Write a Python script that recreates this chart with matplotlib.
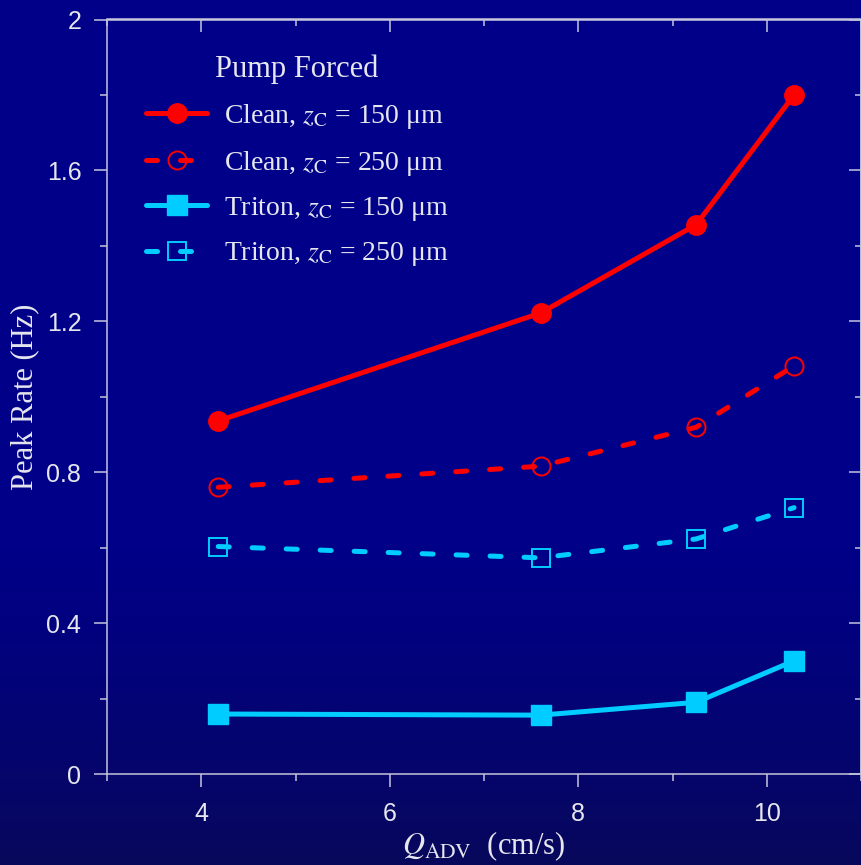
import numpy as np
import matplotlib
matplotlib.use("Agg")
import matplotlib.pyplot as plt

# data
q_adv = [4.18, 7.60, 9.25, 10.29]
clean_150 = [0.936, 1.222, 1.456, 1.800]
clean_250 = [0.760, 0.816, 0.919, 1.082]
triton_150 = [0.159, 0.156, 0.190, 0.300]
triton_250 = [0.603, 0.573, 0.623, 0.706]

labels = [r"Clean, $z_{\mathrm{C}}$ = 150 μm",
          r"Clean, $z_{\mathrm{C}}$ = 250 μm",
          r"Triton, $z_{\mathrm{C}}$ = 150 μm",
          r"Triton, $z_{\mathrm{C}}$ = 250 μm"]

x_major = [4, 6, 8, 10]
x_minor = [3, 5, 7, 9, 11]
y_major = [0, 0.4, 0.8, 1.2, 1.6, 2.0]
y_minor = [0.2, 0.6, 1.0, 1.4, 1.8]

red = "#ff0000"
cyan = "#00ccff"
txt = "#e6e6ee"
spine = "#c4c4dc"

plt.rcParams["mathtext.fontset"] = "stix"

W, H = 862, 865
fig = plt.figure(figsize=(W / 100, H / 100), dpi=100)

# navy background, darker toward the bottom
bg = fig.add_axes([0, 0, 1, 1], zorder=-5)
t = np.linspace(0, 1, 400)
shade = np.clip((t - 0.6) / 0.4, 0, 1) ** 1.3
top = np.array([0.0, 0.0, 0.54])
bot = np.array([0.03, 0.03, 0.36])
grad = top[None, :] * (1 - shade[:, None]) + bot[None, :] * shade[:, None]
bg.imshow(grad[:, None, :], aspect="auto", extent=[0, 1, 0, 1])
bg.axis("off")

ax = fig.add_axes([107 / W, 1 - 774 / H, 754 / W, 754.5 / H])
ax.set_facecolor("none")

dash = (0, (2.2, 4.6))
ax.plot(q_adv, clean_150, color=red, lw=3.6, marker="o", ms=14,
        mec=red, solid_capstyle="round", label=labels[0])
ax.plot(q_adv, clean_250, color=red, lw=3.6, ls=dash, dash_capstyle="round",
        marker="o", ms=13, mfc="none", mec=red, mew=1.4, label=labels[1])
ax.plot(q_adv, triton_150, color=cyan, lw=3.6, marker="s", ms=14,
        mec=cyan, solid_capstyle="round", label=labels[2])
ax.plot(q_adv, triton_250, color=cyan, lw=3.6, ls=dash, dash_capstyle="round",
        marker="s", ms=13, mfc="none", mec=cyan, mew=1.4, label=labels[3])

ax.set_xlim(3, 11)
ax.set_ylim(0, 2)
ax.set_xticks(x_major)
ax.set_xticks(x_minor, minor=True)
ax.set_yticks(y_major)
ax.set_yticklabels(["0", "0.4", "0.8", "1.2", "1.6", "2"])
ax.set_yticks(y_minor, minor=True)

for s in ax.spines.values():
    s.set_color(spine)
    s.set_linewidth(1.1)

ax.tick_params(which="both", direction="out", color=spine, width=1.1)
ax.tick_params(which="major", length=9.5)
ax.tick_params(which="minor", length=5)
ax.tick_params(axis="x", which="major", pad=11, labelsize=18, labelcolor=txt)
ax.tick_params(axis="y", which="major", pad=9, labelsize=18, labelcolor=txt)
for lab in ax.get_xticklabels() + ax.get_yticklabels():
    lab.set_family("Liberation Sans")

# inward ticks on top and right
secx = ax.secondary_xaxis("top")
secx.set_xticks(x_major)
secx.set_xticks(x_minor, minor=True)
secx.tick_params(which="both", direction="in", color=spine, width=1.1, labeltop=False)
secx.tick_params(which="major", length=9.5)
secx.tick_params(which="minor", length=5)
secx.spines["top"].set_color(spine)
secx.spines["top"].set_linewidth(1.1)

secy = ax.secondary_yaxis("right")
secy.set_yticks(y_major)
secy.set_yticks(y_minor, minor=True)
secy.tick_params(which="both", direction="in", color=spine, width=1.1, labelright=False)
secy.tick_params(which="major", length=9)
secy.tick_params(which="minor", length=4.5)
secy.spines["right"].set_color(spine)
secy.spines["right"].set_linewidth(1.1)

ax.set_xlabel(r"$Q_{\mathrm{ADV}}$  (cm/s)", fontsize=22, color=txt,
              family="Liberation Serif", labelpad=2)
ax.set_ylabel("Peak Rate (Hz)", fontsize=22, color=txt,
              family="Liberation Serif", labelpad=5)

leg = ax.legend(loc="upper left", bbox_to_anchor=(146 / W, 1 - 55 / H),
                bbox_transform=fig.transFigure, frameon=False,
                title="Pump Forced", borderpad=0, borderaxespad=0,
                handlelength=2.2, handletextpad=0.6, labelspacing=0.63,
                prop={"family": "Liberation Serif", "size": 20},
                title_fontproperties={"family": "Liberation Serif", "size": 22})
for tx in leg.get_texts():
    tx.set_color(txt)
leg.get_title().set_color(txt)

fig.savefig("out.png", dpi=100)
